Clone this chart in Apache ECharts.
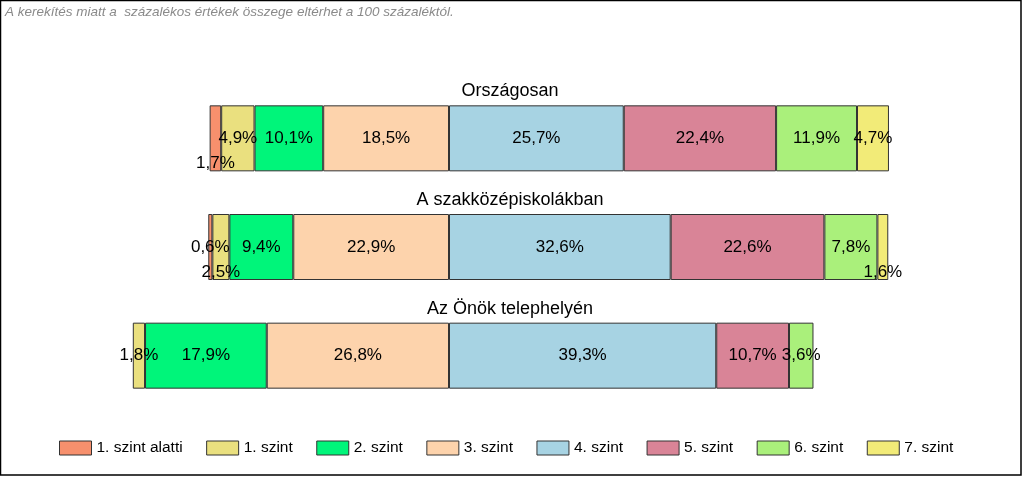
<!DOCTYPE html>
<html>
<head>
<meta charset="utf-8">
<script src="https://cdn.jsdelivr.net/npm/echarts@6/dist/echarts.min.js"></script>
<style>
html,body{margin:0;padding:0;background:#fff;}
#c{width:1024px;height:478px;}
</style>
</head>
<body>
<div id="c"></div>
<script>
// ---- data ----
var categories = ['Országosan', 'A szakközépiskolákban', 'Az Önök telephelyén'];
var levels = ['1. szint alatti', '1. szint', '2. szint', '3. szint', '4. szint', '5. szint', '6. szint', '7. szint'];
var szintAlatti = [1.7, 0.6, null];
var szint1 = [4.9, 2.5, 1.8];
var szint2 = [10.1, 9.4, 17.9];
var szint3 = [18.5, 22.9, 26.8];
var szint4 = [25.7, 32.6, 39.3];
var szint5 = [22.4, 22.6, 10.7];
var szint6 = [11.9, 7.8, 3.6];
var szint7 = [4.7, 1.6, null];
var note = 'A kerekítés miatt a  százalékos értékek összege eltérhet a 100 százaléktól.';

// ---- styling ----
var colors = {
  '1. szint alatti': '#F7906D',
  '1. szint': '#EAE07F',
  '2. szint': '#00F57A',
  '3. szint': '#FDD3AC',
  '4. szint': '#A7D3E3',
  '5. szint': '#D98497',
  '6. szint': '#AAF07B',
  '7. szint': '#F2EB78'
};
// labels moved below the bar centre (level name -> category index list)
var lowered = { '1. szint alatti': [0], '1. szint': [1], '7. szint': [1] };

function fmt(v) { return Math.abs(v).toFixed(1).replace('.', ',') + '%'; }

function mkSeries(name, vals, sign) {
  return {
    name: name,
    type: 'bar',
    stack: 'total',
    barWidth: 66,
    itemStyle: { color: colors[name], borderColor: '#333', borderWidth: 1 },
    label: {
      show: true, position: 'inside', color: '#000',
      fontFamily: 'Liberation Sans, Arial, sans-serif', fontSize: 17,
      formatter: function (p) { return fmt(p.value); }
    },
    data: vals.map(function (v, i) {
      if (v === null) return null;
      var d = { value: sign * v };
      if (lowered[name] && lowered[name].indexOf(i) >= 0) {
        d.label = { offset: [0, 25] };
      }
      return d;
    })
  };
}

// order of stacking: closest to the centre first
var series = [
  mkSeries('3. szint', szint3, -1),
  mkSeries('2. szint', szint2, -1),
  mkSeries('1. szint', szint1, -1),
  mkSeries('1. szint alatti', szintAlatti, -1),
  mkSeries('4. szint', szint4, 1),
  mkSeries('5. szint', szint5, 1),
  mkSeries('6. szint', szint6, 1),
  mkSeries('7. szint', szint7, 1)
];

var chart = echarts.init(document.getElementById('c'), null, { renderer: 'canvas' });
chart.setOption({
  animation: false,
  backgroundColor: '#fff',
  textStyle: { fontFamily: 'Liberation Sans, Arial, sans-serif' },
  grid: { left: 109, right: 99, top: 84, height: 326 },
  xAxis: { type: 'value', min: -50, max: 70, show: false },
  yAxis: {
    type: 'category', inverse: true, data: categories,
    axisLine: { show: false }, axisTick: { show: false }, splitLine: { show: false },
    axisLabel: {
      margin: -401, align: 'center', verticalAlign: 'bottom',
      padding: [0, 0, 38, 0],
      fontSize: 18, color: '#000', fontFamily: 'Liberation Sans, Arial, sans-serif'
    }
  },
  legend: {
    data: levels,
    left: 59, top: 440, padding: 0,
    itemWidth: 32, itemHeight: 14, itemGap: 23.5,
    icon: 'rect',
    itemStyle: { borderColor: '#333', borderWidth: 1 },
    textStyle: { fontSize: 15.5, color: '#000', fontFamily: 'Liberation Sans, Arial, sans-serif' }
  },
  graphic: [
    { type: 'rect', shape: { x: 0.5, y: 0.5, width: 1020.5, height: 474.5 },
      style: { fill: 'none', stroke: '#000', lineWidth: 1.5 }, silent: true },
    { type: 'text', left: 5, top: 5,
      style: { text: note, fill: '#8a8a8a', font: 'italic 13.5px "Liberation Sans", Arial, sans-serif' } }
  ],
  series: series
});
</script>
</body>
</html>
